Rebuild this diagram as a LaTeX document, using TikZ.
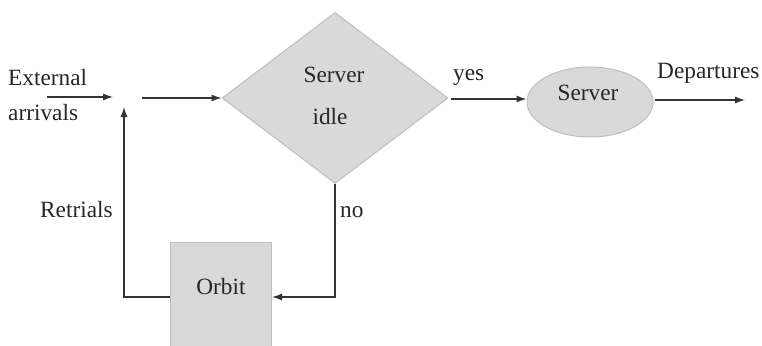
\documentclass[tikz,border=0pt]{standalone}
\usepackage{fontspec}
\setmainfont{Liberation Serif}
\usetikzlibrary{shapes.geometric,arrows.meta}
\begin{document}
\begin{tikzpicture}[x=1pt,y=-1pt,
  lbl/.style={font=\fontsize{23.3}{27}\selectfont, text=black!85, inner sep=0pt},
  conn/.style={draw=black!80, line width=1.2pt},
  arr/.style={conn, -{Latex[length=10pt,width=7pt]}},
  shp/.style={fill=black!15, draw=black!25, line width=1pt}]
\useasboundingbox (0,0) rectangle (762,345);
\clip (0,0) rectangle (762,345);
% shapes
\node[shp, diamond, minimum width=226pt, minimum height=171pt, inner sep=0pt] (idle) at (335,98) {};
\node[lbl] (idleA) at (334,75) {Server};
\node[lbl] (idleB) at (330,117) {idle};
\node[shp, ellipse, minimum width=126pt, minimum height=70pt, inner sep=0pt] (server) at (590,102) {};
\node[lbl] (serverT) at (588,93) {Server};
\node[shp, rectangle, minimum width=101pt, minimum height=120pt, inner sep=0pt, anchor=north west] (orbit) at (170,242) {};
\node[lbl] (orbitT) at (221,287) {Orbit};
% labels
\node[lbl, anchor=west] (ext) at (8,78) {External};
\node[lbl, anchor=west] (arrv) at (8,113) {arrivals};
\node[lbl, anchor=west] (retr) at (40,210) {Retrials};
\node[lbl, anchor=west] (no) at (340,212) {no};
\node[lbl, anchor=west] (yes) at (453,78) {yes};
\node[lbl, anchor=west] (dep) at (657,73) {Departures};
% coordinates
\coordinate (e1) at (47,97);
\coordinate (e2) at (113,97);
\coordinate (m1) at (142,98);
\coordinate (y1) at (451,99);
\coordinate (t1) at (124,297);
\coordinate (t2) at (124,107);
\coordinate (nb) at (335,297);
\coordinate (d1) at (655,100);
\coordinate (d2) at (745,100);
% connectors
\draw[arr] (e1) -- (e2);
\draw[arr] (m1) -- (idle.west);
\draw[arr] (y1) -- (server.west |- y1);
\draw[arr] (d1) -- (d2);
\draw[arr] (idle.south) -- (nb) -- (orbit.east |- nb);
\draw[arr] (orbit.west |- t1) -- (t1) -- (t2);
\end{tikzpicture}
\end{document}
